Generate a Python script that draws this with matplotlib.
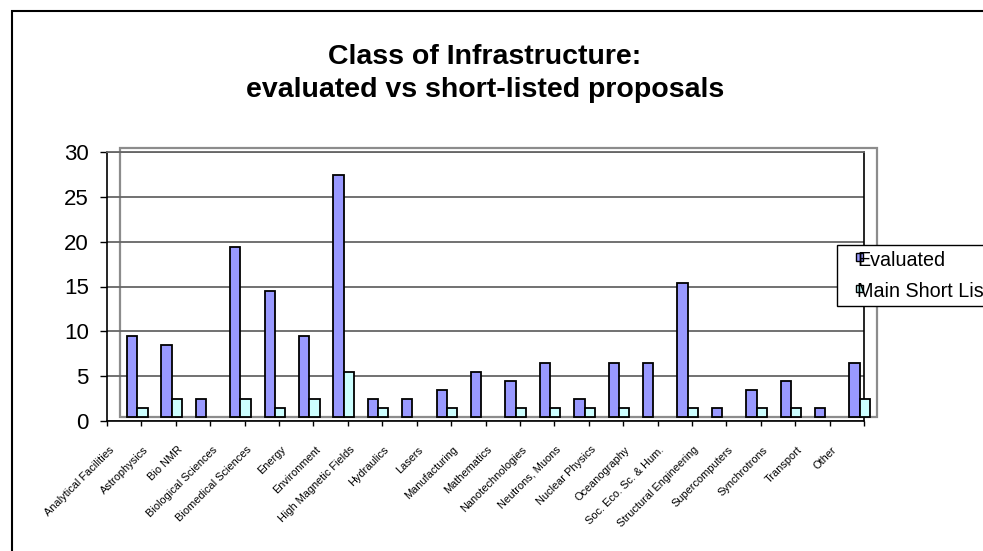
import matplotlib
matplotlib.use("Agg")
import matplotlib.pyplot as plt
import matplotlib.transforms as mtransforms
from matplotlib.patches import Rectangle, Patch
from matplotlib.legend_handler import HandlerPatch

plt.rcParams['font.family'] = ['Liberation Sans', 'DejaVu Sans']

# Data
categories = ['Analytical Facilities', 'Astrophysics', 'Bio NMR', 'Biological Sciences',
              'Biomedical Sciences', 'Energy', 'Environment', 'High Magnetic Fields',
              'Hydraulics', 'Lasers', 'Manufacturing', 'Mathematics', 'Nanotechnologies',
              'Neutrons, Muons', 'Nuclear Physics', 'Oceanography', 'Soc. Eco. Sc. & Hum.',
              'Structural Engineering', 'Supercomputers', 'Synchrotrons', 'Transport', 'Other']
evaluated = [9, 8, 2, 19, 14, 9, 27, 2, 2, 3, 5, 4, 6, 2, 6, 6, 15, 1, 3, 4, 1, 6]
short_list = [1, 2, 0, 2, 1, 2, 5, 1, 0, 1, 0, 1, 1, 1, 1, 0, 1, 0, 1, 1, 0, 2]
series_names = ['Evaluated', 'Main Short List']
yticks = [0, 5, 10, 15, 20, 25, 30]

W, H = 983, 551
fig = plt.figure(figsize=(W / 100, H / 100), dpi=100)
ax = fig.add_axes([107 / W, 130 / H, 757 / W, 269 / H])

n = len(categories)
centers = [i + 0.5 for i in range(n)]
bw = 0.3

# Excel style 3D-ish shift of the plot wall and bars
shift = mtransforms.ScaledTranslation(13 / 100, 4 / 100, fig.dpi_scale_trans)

wall = Rectangle((0, 0), 1, 1, transform=ax.transAxes + shift, facecolor='white',
                 edgecolor='#8c8c8c', lw=1.6, zorder=0.2, clip_on=False)
ax.add_patch(wall)

b1 = ax.bar([c - bw / 2 for c in centers], evaluated, width=bw, color='#9999FF',
            edgecolor='black', lw=1.3, transform=ax.transData + shift, zorder=3)
b2 = ax.bar([c + bw / 2 for c in centers], short_list, width=bw, color='#CCFFFF',
            edgecolor='black', lw=1.3, transform=ax.transData + shift, zorder=3)
for r in list(b1) + list(b2):
    r.set_clip_on(False)
    if r.get_height() == 0:
        r.set_visible(False)

ax.set_xlim(0, n)
ax.set_ylim(0, 30)
ax.set_yticks(yticks)
ax.set_xticks(range(n + 1))
ax.set_xticklabels([])
ax.tick_params(axis='y', labelsize=16, length=5.3, width=1, pad=7.9, direction='out')
ax.tick_params(axis='x', length=3.6, width=1, direction='out')
ax.set_axisbelow(True)
ax.yaxis.grid(True, color='#666666', lw=1.3)

for s in ['left', 'bottom', 'right']:
    ax.spines[s].set_color('black')
    ax.spines[s].set_linewidth(1.2)
ax.spines['top'].set_color('#666666')
ax.spines['top'].set_linewidth(1.3)

# category labels, rotated
lab_tr = ax.get_xaxis_transform() + mtransforms.ScaledTranslation(-12 / 100, -27 / 100, fig.dpi_scale_trans)
for c, name in zip(centers, categories):
    ax.text(c, 0, name, transform=lab_tr, rotation=45, ha='right', va='center',
            rotation_mode='anchor', fontsize=7.9)

# title
fig.text(485 / W, 1 - 64 / H, 'Class of Infrastructure:', ha='center', va='baseline',
         fontsize=20.5, fontweight='bold')
fig.text(485 / W, 1 - 97 / H, 'evaluated vs short-listed proposals', ha='center',
         va='baseline', fontsize=20.5, fontweight='bold')

# chart border
fig.add_artist(Rectangle((12 / W, -0.2), 1.2, 1.2 - 11 / H, transform=fig.transFigure,
                         fill=False, edgecolor='black', lw=1.5))


def small_square(legend, orig_handle, xdescent, ydescent, width, height, fontsize):
    s = 5.4
    return Rectangle((-xdescent + width - s, -ydescent + (height - s) / 2 + 1.0), s, s)


handles = [Patch(facecolor='#9999FF', edgecolor='black'),
           Patch(facecolor='#CCFFFF', edgecolor='black')]
leg = fig.legend(handles, series_names, loc='upper left',
                 bbox_to_anchor=(837 / W, 1 - 245 / H), bbox_transform=fig.transFigure,
                 borderaxespad=0, fancybox=False, edgecolor='black', framealpha=1,
                 fontsize=14.2, handlelength=1.05, handleheight=0.7, handletextpad=-0.3,
                 borderpad=0.28, labelspacing=0.62,
                 handler_map={Patch: HandlerPatch(patch_func=small_square)})
leg.get_frame().set_linewidth(1.0)

fig.savefig('out.png', dpi=100)
